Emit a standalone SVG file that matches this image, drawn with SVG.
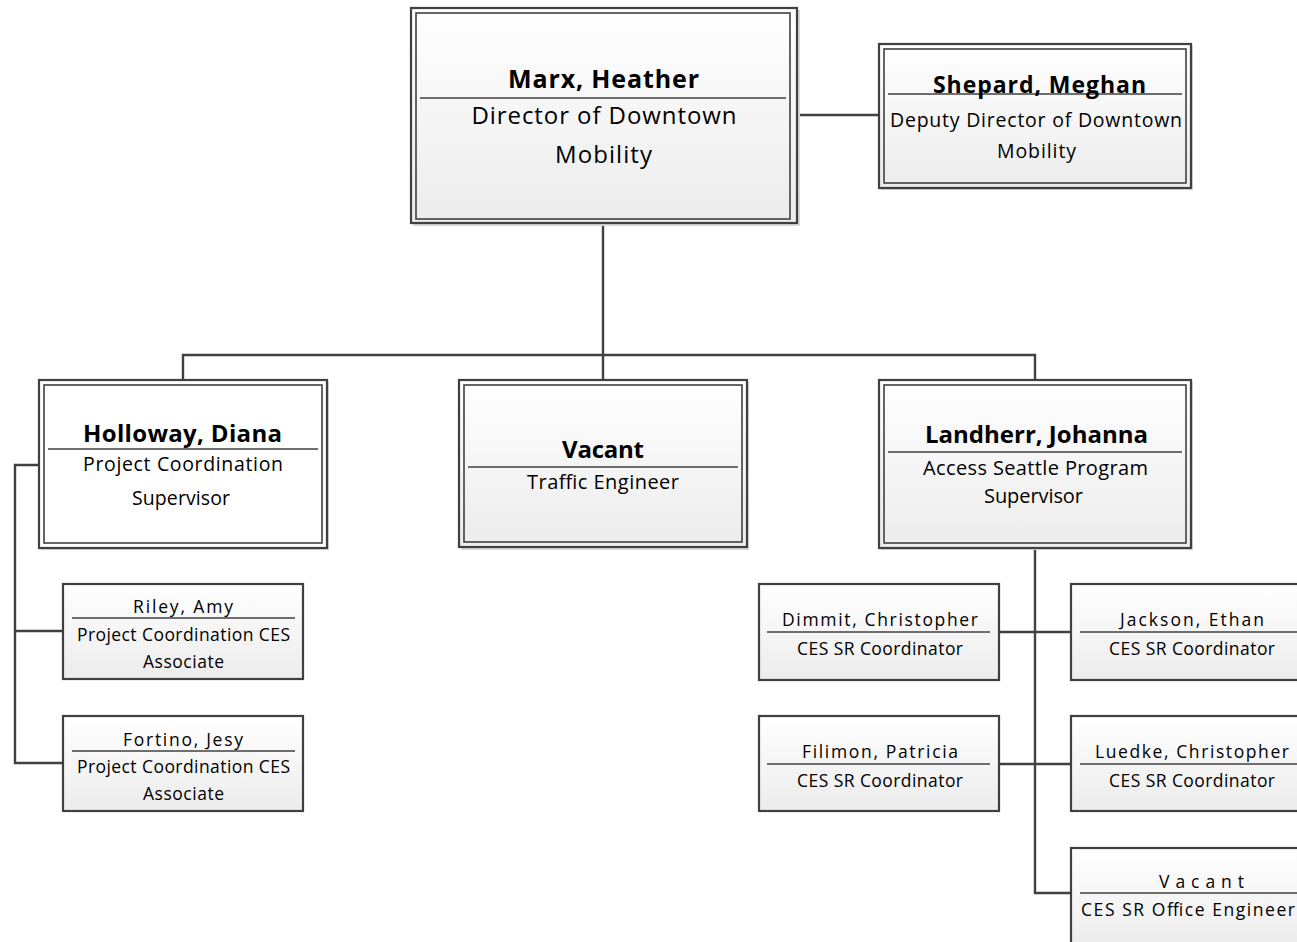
<svg xmlns="http://www.w3.org/2000/svg" width="1297" height="942" viewBox="0 0 1297 942">
<defs>
<linearGradient id="g" x1="0" y1="0" x2="0" y2="1">
<stop offset="0" stop-color="#ffffff"/>
<stop offset="1" stop-color="#ececec"/>
</linearGradient>
<style>
.sh{fill:#d9d9d9}
.o{fill:url(#g);stroke:#404040;stroke-width:2.2}
.ow{fill:#ffffff;stroke:#404040;stroke-width:2.2}
.i{fill:none;stroke:#404040;stroke-width:1.6}
.d{stroke:#404040;stroke-width:1.3}
.c{fill:none;stroke:#404040;stroke-width:2.4}
text{font-family:"Open Sans","Liberation Sans",Arial,sans-serif;fill:#000;text-anchor:middle}
.b{font-weight:bold}
</style>
</defs>
<rect width="1297" height="942" fill="#ffffff"/>
<g id="connectors">
<path class="c" d="M797 115H879"/>
<path class="c" d="M603 223V380M183 380V355H1035V380"/>
<path class="c" d="M39 465H15V763H63M15 631H63"/>
<path class="c" d="M1035 548V893H1071M999 632H1071M999 764H1071"/>
</g>
<g id="marx">
<rect class="sh" x="413" y="10" width="387" height="216"/>
<rect class="o" x="411" y="8" width="386" height="215"/>
<rect class="i" x="416" y="13" width="374" height="206"/>
<line class="d" x1="420" y1="98" x2="786" y2="98"/>
<text class="b" x="603.5" y="88" font-size="25" textLength="191" lengthAdjust="spacing">Marx, Heather</text>
<text x="604" y="124" font-size="24" textLength="265" lengthAdjust="spacing">Director of Downtown</text>
<text x="603.5" y="163" font-size="24" textLength="97" lengthAdjust="spacing">Mobility</text>
</g>
<g id="shepard">
<rect class="sh" x="881" y="46" width="312" height="144"/>
<rect class="o" x="879" y="44" width="312" height="144"/>
<rect class="i" x="884" y="49" width="302" height="134"/>
<line class="d" x1="888" y1="94" x2="1182" y2="94"/>
<text class="b" x="1039.5" y="93" font-size="23" textLength="213" lengthAdjust="spacing">Shepard, Meghan</text>
<text x="1036" y="127" font-size="19.5" textLength="292" lengthAdjust="spacing">Deputy Director of Downtown</text>
<text x="1036.5" y="158" font-size="19.5" textLength="79" lengthAdjust="spacing">Mobility</text>
</g>
<g id="holloway">
<rect class="sh" x="41" y="382" width="288" height="168"/>
<rect class="ow" x="39" y="380" width="288" height="168"/>
<rect class="i" x="44" y="385" width="278" height="158"/>
<line class="d" x1="48" y1="449" x2="318" y2="449"/>
<text class="b" x="182.5" y="442" font-size="24" textLength="199" lengthAdjust="spacing">Holloway, Diana</text>
<text x="183" y="471" font-size="19.5" textLength="200" lengthAdjust="spacing">Project Coordination</text>
<text x="181" y="505" font-size="19.5" textLength="98" lengthAdjust="spacing">Supervisor</text>
</g>
<g id="vacant-te">
<rect class="sh" x="461" y="382" width="288" height="168"/>
<rect class="o" x="459" y="380" width="288" height="167"/>
<rect class="i" x="464" y="385" width="278" height="157"/>
<line class="d" x1="468" y1="467" x2="738" y2="467"/>
<text class="b" x="603" y="458" font-size="24" textLength="82" lengthAdjust="spacing">Vacant</text>
<text x="603" y="489" font-size="20" textLength="152" lengthAdjust="spacing">Traffic Engineer</text>
</g>
<g id="landherr">
<rect class="sh" x="881" y="382" width="312" height="168"/>
<rect class="o" x="879" y="380" width="312" height="168"/>
<rect class="i" x="884" y="385" width="302" height="158"/>
<line class="d" x1="888" y1="452" x2="1182" y2="452"/>
<text class="b" x="1036.5" y="443" font-size="24" textLength="223" lengthAdjust="spacing">Landherr, Johanna</text>
<text x="1035.5" y="475" font-size="20" textLength="225" lengthAdjust="spacing">Access Seattle Program</text>
<text x="1033.5" y="503" font-size="20" textLength="99" lengthAdjust="spacing">Supervisor</text>
</g>
<g id="riley">
<rect class="o" x="63" y="584" width="240" height="95"/>
<line class="d" x1="72" y1="618" x2="295" y2="618"/>
<text x="183" y="613" font-size="17.5" textLength="100" lengthAdjust="spacing">Riley, Amy</text>
<text x="183.5" y="641" font-size="17.5" textLength="213" lengthAdjust="spacing">Project Coordination CES</text>
<text x="183.5" y="668" font-size="17.5" textLength="81" lengthAdjust="spacing">Associate</text>
</g>
<g id="fortino">
<rect class="o" x="63" y="716" width="240" height="95"/>
<line class="d" x1="72" y1="751" x2="295" y2="751"/>
<text x="183" y="746" font-size="17.5" textLength="120" lengthAdjust="spacing">Fortino, Jesy</text>
<text x="183.5" y="773" font-size="17.5" textLength="213" lengthAdjust="spacing">Project Coordination CES</text>
<text x="183.5" y="800" font-size="17.5" textLength="81" lengthAdjust="spacing">Associate</text>
</g>
<g id="dimmit">
<rect class="o" x="759" y="584" width="240" height="96"/>
<line class="d" x1="767" y1="632" x2="990" y2="632"/>
<text x="880" y="626" font-size="17.5" textLength="196" lengthAdjust="spacing">Dimmit, Christopher</text>
<text x="880" y="655" font-size="17.5" textLength="166" lengthAdjust="spacing">CES SR Coordinator</text>
</g>
<g id="jackson">
<rect class="o" x="1071" y="584" width="240" height="96"/>
<line class="d" x1="1080" y1="632" x2="1305" y2="632"/>
<text x="1192" y="626" font-size="17.5" textLength="144" lengthAdjust="spacing">Jackson, Ethan</text>
<text x="1192" y="655" font-size="17.5" textLength="166" lengthAdjust="spacing">CES SR Coordinator</text>
</g>
<g id="filimon">
<rect class="o" x="759" y="716" width="240" height="95"/>
<line class="d" x1="767" y1="764" x2="990" y2="764"/>
<text x="880" y="758" font-size="17.5" textLength="156" lengthAdjust="spacing">Filimon, Patricia</text>
<text x="880" y="787" font-size="17.5" textLength="166" lengthAdjust="spacing">CES SR Coordinator</text>
</g>
<g id="luedke">
<rect class="o" x="1071" y="716" width="240" height="95"/>
<line class="d" x1="1080" y1="764" x2="1305" y2="764"/>
<text x="1192" y="758" font-size="17.5" textLength="194" lengthAdjust="spacing">Luedke, Christopher</text>
<text x="1192" y="787" font-size="17.5" textLength="166" lengthAdjust="spacing">CES SR Coordinator</text>
</g>
<g id="vacant-oe">
<rect class="o" x="1071" y="848" width="240" height="100"/>
<line class="d" x1="1080" y1="893" x2="1305" y2="893"/>
<text x="1201.5" y="888" font-size="17.5" textLength="85" lengthAdjust="spacing">Vacant</text>
<text x="1188" y="916" font-size="17.5" textLength="214" lengthAdjust="spacing">CES SR Office Engineer</text>
</g>
</svg>
